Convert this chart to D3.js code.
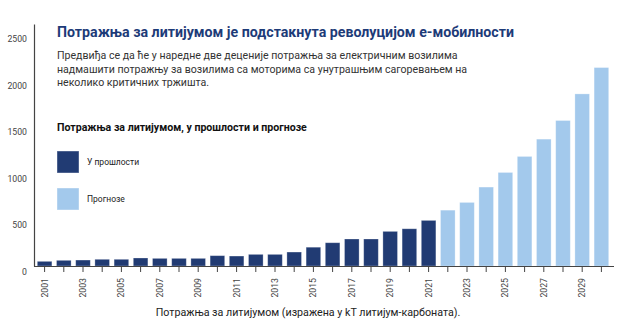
<!DOCTYPE html>
<html><head><meta charset="utf-8">
<script src="https://cdn.jsdelivr.net/npm/d3@7"></script>
<style>
html,body{margin:0;padding:0;background:#fff;}
svg{display:block;font-family:Roboto, "Noto Sans", sans-serif;}
</style></head>
<body><svg id="c" width="620" height="336"></svg>
<script>
const years = d3.range(2001, 2031).map(String);
const values = [50,61,64,72,72,86,82,82,82,111,107,125,125,150,202,250,290,290,372,400,490,600,683,848,1005,1177,1363,1563,1849,2132];
const kinds = years.map(y => (+y <= 2021 ? "past" : "forecast"));
const yTicks = [0,500,1000,1500,2000,2500];
const legendLabels = ["У прошлости","Прогнозе"];
const titleText = "Потражња за литијумом је подстакнута револуцијом е-мобилности";
const subtitleLines = ["Предвиђа се да ће у наредне две деценије потражња за електричним возилима","надмашити потражњу за возилима са моторима са унутрашњим сагоревањем на","неколико критичних тржишта."];
const legendTitle = "Потражња за литијумом, у прошлости и прогнозе";
const xTitle = "Потражња за литијумом (изражена у kT литијум-карбоната).";

const colors = {past:"#213b73", forecast:"#a3c9ec"};
const svg = d3.select("#c");
const x = d3.scaleBand().domain(years).range([35, 611]).paddingInner(0.24).paddingOuter(0.12);
const y = d3.scaleLinear().domain([0, 2600]).range([266, 24]);

// bars
svg.append("g").selectAll("rect").data(years).join("rect")
  .attr("x", d => x(d)).attr("width", x.bandwidth())
  .attr("y", (d,i) => y(values[i])).attr("height", (d,i) => y(0) - y(values[i]))
  .attr("fill", (d,i) => colors[kinds[i]])
  .attr("stroke", "#ffffff").attr("stroke-opacity", 0.35).attr("stroke-width", 0.8);

// y axis
const yAxis = svg.append("g").attr("transform", "translate(34,0)")
  .call(d3.axisLeft(y).tickValues(yTicks).tickSize(0).tickPadding(7).tickFormat(d3.format("d")));
yAxis.select(".domain").attr("stroke", "#444").attr("stroke-width", 1.2);
yAxis.selectAll("text").attr("font-size", 8.7).attr("fill", "#444").attr("dy", "0.95em")
  .attr("font-family", "Roboto, sans-serif");

// x axis
const xAxis = svg.append("g").attr("transform", "translate(0,266)")
  .call(d3.axisBottom(x).tickSize(6).tickSizeOuter(0)
    .tickFormat(d => (+d % 2 === 1 ? d : "")));
xAxis.select(".domain").attr("stroke", "#444").attr("stroke-width", 1.2).attr("d", "M34,0.5H614");
xAxis.selectAll(".tick line").attr("stroke", "#444");
xAxis.selectAll("text").attr("font-size", 8.7).attr("fill", "#444")
  .attr("font-family", "Roboto, sans-serif")
  .attr("transform", "rotate(-90)").attr("text-anchor", "end")
  .attr("x", -12).attr("y", 0).attr("dy", "0.35em");

// title
svg.append("text").attr("x", 57).attr("y", 37).text(titleText)
  .attr("font-size", 14.2).attr("font-weight", "bold").attr("fill", "#1d3b78");
svg.append("g").selectAll("text").data(subtitleLines).join("text")
  .attr("x", 57).attr("y", (d,i) => 59 + i*13.5).text(d => d)
  .attr("font-size", 10.6).attr("fill", "#333");

// legend
svg.append("text").attr("x", 57).attr("y", 131).text(legendTitle)
  .attr("font-size", 10.6).attr("font-weight", "bold").attr("fill", "#111");
const lg = svg.append("g").selectAll("g").data(legendLabels).join("g")
  .attr("transform", (d,i) => `translate(57,${151 + i*37})`);
lg.append("rect").attr("width", 22).attr("height", 22)
  .attr("fill", (d,i) => i === 0 ? colors.past : colors.forecast)
  .attr("stroke", "#fff").attr("stroke-opacity", 0.4);
lg.append("text").attr("x", 30).attr("y", 11).attr("dy", "0.35em").text(d => d)
  .attr("font-size", 8.5).attr("fill", "#222");

// x title
svg.append("text").attr("x", 308).attr("y", 316).attr("text-anchor", "middle").text(xTitle)
  .attr("font-size", 10.7).attr("fill", "#222");
</script></body></html>
